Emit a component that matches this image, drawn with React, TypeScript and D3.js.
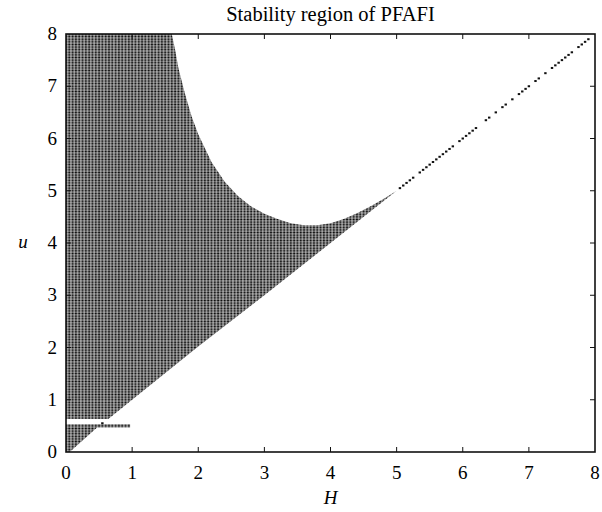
import React from "react";
import * as d3 from "d3";

const title = "Stability region of PFAFI";
const xTicks = [0, 1, 2, 3, 4, 5, 6, 7, 8];
const yTicks = [0, 1, 2, 3, 4, 5, 6, 7, 8];
const gridStep = 0.05;

// upper edge of the stable region, left to right
const upperH = [0, 1.6, 1.65, 1.7, 1.8, 1.9, 2.0, 2.2, 2.4, 2.6, 2.8, 3.0, 3.2, 3.4, 3.6, 3.8, 4.0, 4.2, 4.4, 4.6, 4.8, 5.0];
const upperU = [8, 8, 7.7, 7.35, 6.85, 6.42, 6.08, 5.55, 5.17, 4.9, 4.7, 4.56, 4.46, 4.38, 4.34, 4.34, 4.38, 4.46, 4.57, 4.7, 4.84, 5.0];
// lower edge, right to left
const lowerH = [5.0, 4.0, 3.0, 2.0, 1.0, 0.64, 0];
const lowerU = [5.0, 4.0, 3.0, 2.02, 1.0, 0.63, 0.63];
// small piece under the white gap
const footH = [0, 0.03, 0.47, 0.97, 0.97, 0];
const footU = [-0.03, -0.03, 0.47, 0.47, 0.53, 0.53];
// isolated points on u = H
const tailH = [0.55, 5.05, 5.1, 5.15, 5.2, 5.25, 5.35, 5.4, 5.45, 5.5, 5.55, 5.6, 5.65, 5.7, 5.75, 5.8, 5.85,
  5.95, 6.0, 6.05, 6.1, 6.15, 6.2, 6.35, 6.4, 6.5, 6.6, 6.65, 6.75, 6.85, 6.9, 6.95, 7.0, 7.1, 7.15,
  7.25, 7.35, 7.4, 7.45, 7.5, 7.55, 7.6, 7.65, 7.75, 7.8, 7.85, 7.9];

const width = 602;
const height = 512;
const m = { left: 66, right: 7, top: 34, bottom: 60 };
const font = "'Liberation Serif', 'DejaVu Serif', serif";

export default function App() {
  const x = d3.scaleLinear().domain([0, 8]).range([m.left, width - m.right]);
  const y = d3.scaleLinear().domain([0, 8]).range([height - m.bottom, m.top]);
  const dx = x(gridStep) - x(0);
  const dy = y(0) - y(gridStep);

  const line = d3.line<[number, number]>().x(d => x(d[0])).y(d => y(d[1]));
  const main: [number, number][] = [
    ...upperH.map((h, i) => [h, upperU[i]] as [number, number]),
    ...lowerH.map((h, i) => [h, lowerU[i]] as [number, number]),
  ];
  const foot: [number, number][] = footH.map((h, i) => [h, footU[i]]);

  const x0 = x(0), x1 = x(8), y0 = y(0), y1 = y(8);

  return (
    <svg width={width} height={height} style={{ display: "block", position: "absolute", left: 0, top: 0, background: "#fff" }}>
      <defs>
        <pattern id="dots" patternUnits="userSpaceOnUse" x={x0 - dx / 2} y={y0 - dy / 2} width={dx} height={dy}>
          <rect x={dx / 2 - 1.3} y={dy / 2 - 1} width={2.6} height={2} fill="#0d0d0d" />
        </pattern>
        <clipPath id="plot">
          <rect x={x0} y={y1} width={x1 - x0} height={y0 - y1} />
        </clipPath>
      </defs>
      <text x={(x0 + x1) / 2} y={21} textAnchor="middle" fontFamily={font} fontSize={20.5}>{title}</text>
      <g clipPath="url(#plot)">
        <path d={line(main) + "Z"} fill="url(#dots)" />
        <path d={line(foot) + "Z"} fill="url(#dots)" />
        {tailH.map((h, i) => (
          <rect key={i} x={x(h) - 1.2} y={y(h) - 1} width={2.4} height={2} fill="#111" />
        ))}
      </g>
      <rect x={x0} y={y1} width={x1 - x0} height={y0 - y1} fill="none" stroke="#111" strokeWidth={1.6} />
      {xTicks.map(t => (
        <g key={"x" + t}>
          {t > 0 && t < 8 && <line x1={x(t)} x2={x(t)} y1={y0} y2={y0 - 5} stroke="#111" />}
          {t > 0 && t < 8 && <line x1={x(t)} x2={x(t)} y1={y1} y2={y1 + 5} stroke="#111" />}
          <text x={x(t)} y={y0 + 27} textAnchor="middle" fontFamily={font} fontSize={19}>{t}</text>
        </g>
      ))}
      {yTicks.map(t => (
        <g key={"y" + t}>
          {t > 0 && t < 8 && <line x1={x0} x2={x0 + 5} y1={y(t)} y2={y(t)} stroke="#111" />}
          {t > 0 && t < 8 && <line x1={x1} x2={x1 - 5} y1={y(t)} y2={y(t)} stroke="#111" />}
          <text x={x0 - 9} y={y(t) + 6} textAnchor="end" fontFamily={font} fontSize={19}>{t}</text>
        </g>
      ))}
      <text x={(x0 + x1) / 2} y={504} textAnchor="middle" fontFamily={font} fontSize={19} fontStyle="italic">H</text>
      <text x={23} y={y(4) + 5} textAnchor="middle" fontFamily={font} fontSize={19} fontStyle="italic">u</text>
    </svg>
  );
}
